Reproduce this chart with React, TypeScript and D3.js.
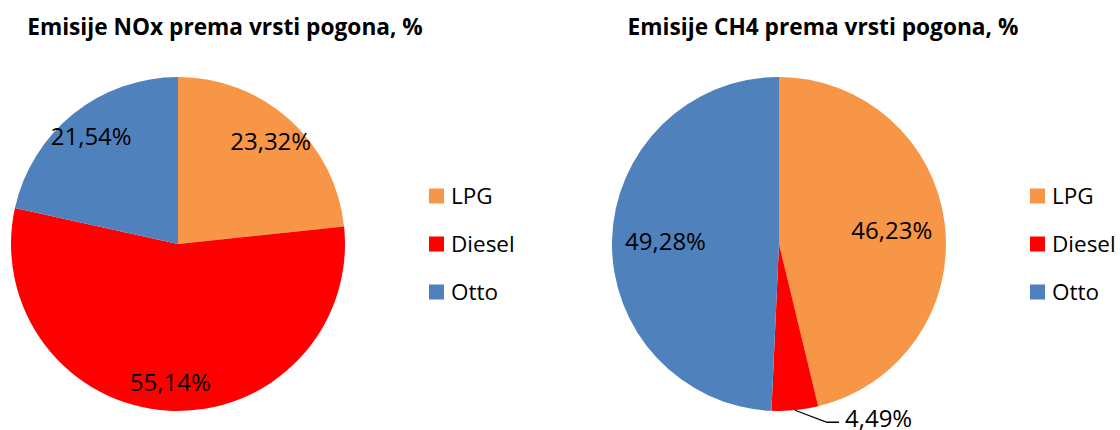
import React from 'react';
import { pie, arc, PieArcDatum } from 'd3';

// data
const categories = ['LPG', 'Diesel', 'Otto'];
const colors = ['#F79646', '#FF0000', '#4F81BD'];
const noxValues = [23.32, 55.14, 21.54];
const ch4Values = [46.23, 4.49, 49.28];
const titles = ['Emisije NOx prema vrsti pogona, %', 'Emisije CH4 prema vrsti pogona, %'];

const W = 1120;
const H = 430;
const FONT = '"Open Sans", "Liberation Sans", sans-serif';

const charts = [
  { title: titles[0], values: noxValues, cx: 178, cy: 244, r: 167, labelR: 0.83, titleX: 225, legendX: 429 },
  { title: titles[1], values: ch4Values, cx: 779, cy: 244, r: 167, labelR: 0.68, titleX: 823, legendX: 1030 },
];

const fmt = (v: number) => v.toFixed(2).replace('.', ',') + '%';

function PieChart({ cfg }: { cfg: typeof charts[number] }) {
  const arcs = pie<number>().sort(null).value(d => d)(cfg.values);
  const slice = arc<PieArcDatum<number>>().innerRadius(0).outerRadius(cfg.r);
  const labelArc = arc<PieArcDatum<number>>().innerRadius(cfg.r * cfg.labelR).outerRadius(cfg.r * cfg.labelR);
  const edgeArc = arc<PieArcDatum<number>>().innerRadius(cfg.r).outerRadius(cfg.r);

  return (
    <g>
      <text x={cfg.titleX} y={35} textAnchor="middle" fontFamily={FONT} fontWeight="bold" fontSize={22.7} fill="#000">
        {cfg.title}
      </text>
      <g transform={`translate(${cfg.cx},${cfg.cy})`}>
        {arcs.map((a, i) => (
          <path key={i} d={slice(a) || ''} fill={colors[i]} />
        ))}
        {arcs.map((a, i) => {
          if (a.value < 10) {
            // small slice: label outside with leader line
            const [sx, sy] = edgeArc.centroid(a);
            const ex = sx + 32, ey = sy + 12;
            return (
              <g key={'l' + i}>
                <polyline points={`${sx},${sy} ${ex},${ey} ${ex + 12},${ey}`} fill="none" stroke="#000" strokeWidth={1.3} />
                <text x={ex + 18} y={ey + 5} fontFamily={FONT} fontSize={24} fill="#000">{fmt(a.value)}</text>
              </g>
            );
          }
          const [lx, ly] = labelArc.centroid(a);
          return (
            <text key={'l' + i} x={lx} y={ly} dy="0.36em" textAnchor="middle" fontFamily={FONT} fontSize={24} fill="#000">
              {fmt(a.value)}
            </text>
          );
        })}
      </g>
      <g>
        {categories.map((c, i) => (
          <g key={c} transform={`translate(${cfg.legendX},${196 + i * 48})`}>
            <rect x={0} y={-7.5} width={15} height={15} fill={colors[i]} />
            <text x={22} y={0} dy="0.36em" fontFamily={FONT} fontSize={22.5} fill="#000">{c}</text>
          </g>
        ))}
      </g>
    </g>
  );
}

export default function App() {
  return (
    <svg width={W} height={H} style={{ position: 'absolute', left: 0, top: 0, background: '#fff' }}>
      <rect width={W} height={H} fill="#fff" />
      {charts.map((c, i) => <PieChart key={i} cfg={c} />)}
    </svg>
  );
}
